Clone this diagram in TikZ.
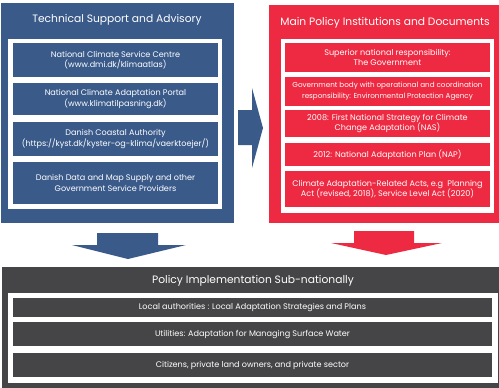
\documentclass[tikz,border=0pt]{standalone}
\usepackage{fontspec}
\setmainfont{Poppins}
\definecolor{tblue}{HTML}{3A5A8A}
\definecolor{tred}{HTML}{EE2A42}
\definecolor{tgray}{HTML}{454547}
\newcommand\rbox[7]{\node[rbx, fill=#6, minimum width={(#4-#2)*1pt}, minimum height={(#5-#3)*1pt}] (#1) at ({(#2+#4)/2},{-(#3+#5)/2}) {#7};}
\begin{document}
\begin{tikzpicture}[x=1pt,y=1pt,
  rbx/.style={rectangle, inner sep=0pt, outer sep=0pt, text=white, align=center, font=\fontsize{8.1}{10.6}\selectfont},
  ttl/.style={text=white, inner sep=0pt, font=\fontsize{10.7}{12}\selectfont}]
\useasboundingbox (0,0) rectangle (499,-388);
% left panel
\rbox{lp}{1}{3}{234}{223}{tblue}{}
\node[ttl] (lt) at (117,-20) {Technical Support and Advisory};
\rbox{lw}{8}{39}{222}{209}{white}{}
\rbox{l1}{13}{43}{218}{77}{tblue}{National Climate Service Centre\\(www.dmi.dk/klimaatlas)}
\rbox{l2}{13}{83}{218}{115}{tblue}{National Climate Adaptation Portal\\(www.klimatilpasning.dk)}
\rbox{l3}{13}{122}{218}{156}{tblue}{Danish Coastal Authority\\(https://kyst.dk/kyster-og-klima/vaerktoejer/)}
\rbox{l4}{13}{162}{218}{204}{tblue}{Danish Data and Map Supply and other\\Government Service Providers}
% right panel
\rbox{rp}{269}{5}{499}{223}{tred}{}
\node[ttl] (rt) at (385,-23) {Main Policy Institutions and Documents};
\rbox{rw}{281}{39}{494}{213}{white}{}
\rbox{r1}{285}{43}{490}{72}{tred}{Superior national responsibility:\\The Government}
\rbox{r2}{285}{77}{490}{106}{tred}{\fontsize{7.2}{9.6}\selectfont Government body with operational and coordination\\\fontsize{7.2}{9.6}\selectfont responsibility: Environmental Protection Agency}
\rbox{r3}{285}{110}{490}{137}{tred}{2008: First National Strategy for Climate\\Change Adaptation (NAS)}
\rbox{r4}{285}{143}{490}{166}{tred}{2012: National Adaptation Plan (NAP)}
\rbox{r5}{285}{171}{490}{207}{tred}{Climate Adaptation-Related Acts, e.g\ \ Planning\\Act (revised, 2018), Service Level Act (2020)}
% bottom panel
\rbox{bp}{2}{267}{499}{390}{tgray}{}
\node[ttl] (bt) at (253,-281) {Policy Implementation Sub-nationally};
\rbox{bw}{8}{293}{498}{383}{white}{}
\rbox{b1}{13}{298}{492}{317}{tgray}{Local authorities : Local Adaptation Strategies and Plans}
\rbox{b2}{13}{322}{492}{346}{tgray}{Utilities: Adaptation for Managing Surface Water}
\rbox{b3}{13}{353}{492}{377}{tgray}{Citizens, private land owners, and private sector}
% arrows
\fill[tblue] (238,-110) -- (252,-110) -- (252,-88) -- (263,-128) -- (252,-168) -- (252,-145) -- (238,-145) -- cycle;
\fill[tblue] (97,-233) -- (158,-233) -- (158,-245) -- (186,-245) -- (128,-259) -- (72,-245) -- (97,-245) -- cycle;
\fill[tred] (354,-231) -- (414,-231) -- (414,-243) -- (442,-243) -- (386,-255) -- (331,-243) -- (354,-243) -- cycle;
\end{tikzpicture}
\end{document}
